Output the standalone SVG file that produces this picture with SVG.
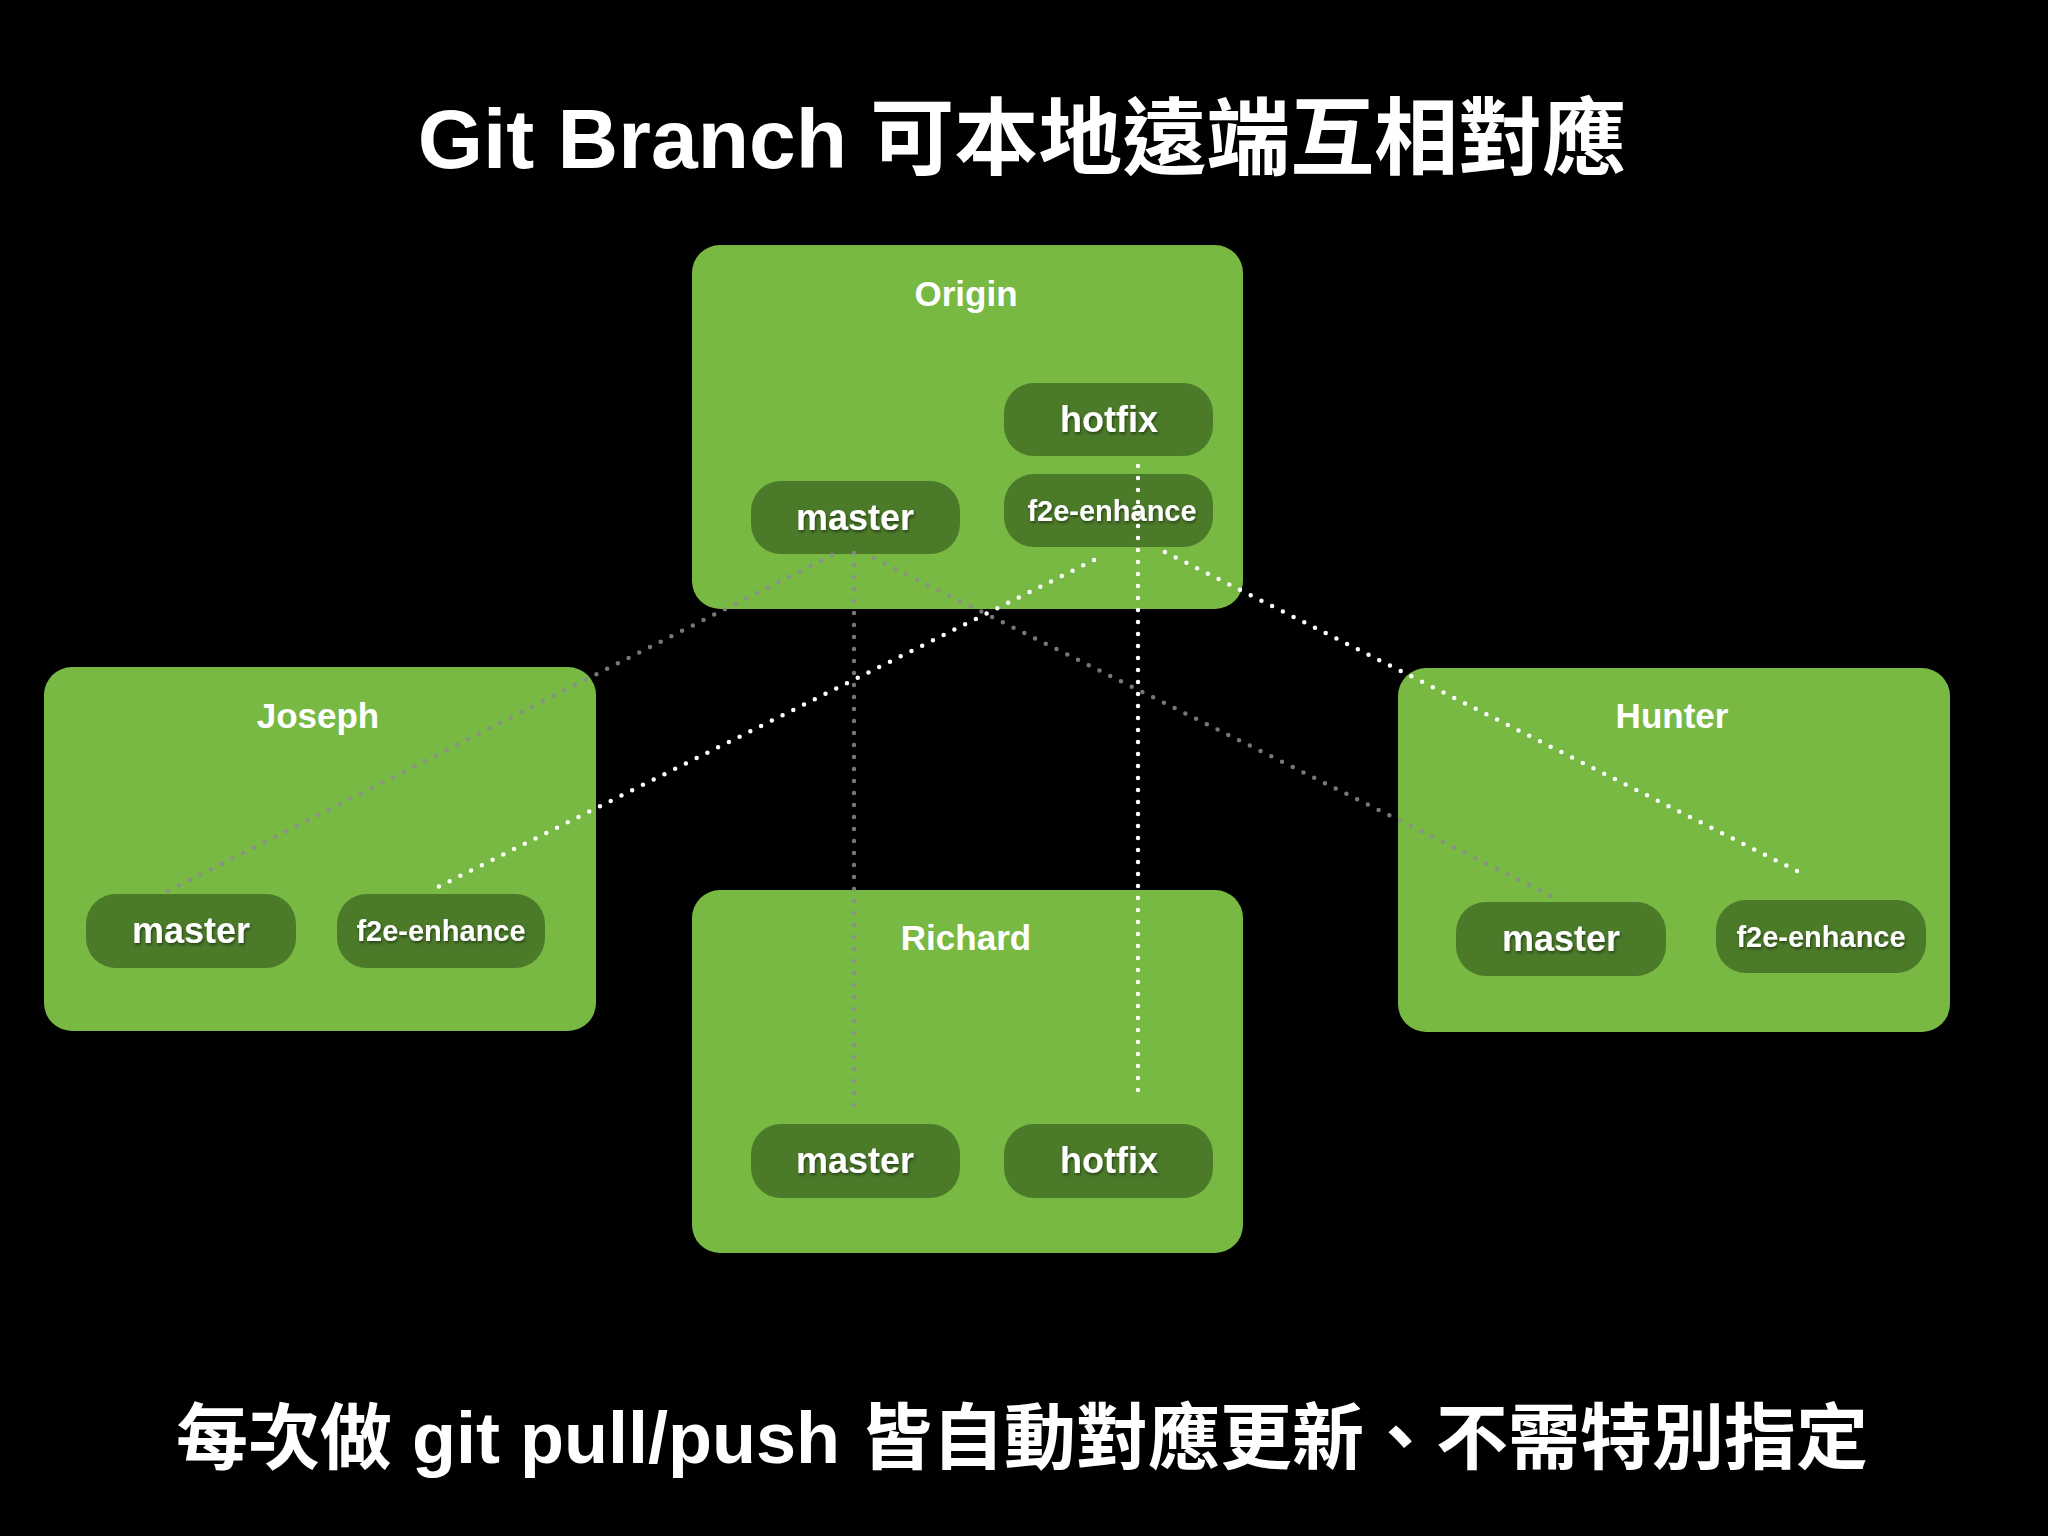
<svg xmlns="http://www.w3.org/2000/svg" width="2048" height="1536" viewBox="0 0 2048 1536">
  <defs>
    <filter id="ts" x="-10%" y="-30%" width="120%" height="160%">
      <feDropShadow dx="1" dy="2" stdDeviation="1.5" flood-color="#000" flood-opacity="0.45"/>
    </filter>
    <style>
      .bg { fill: #000; }
      .box { fill: #78b943; }
      .pill { fill: #4b7a29; }
      .title { font-family: "Liberation Sans", "Noto Sans CJK TC", sans-serif; font-weight: bold; fill: #fff; text-anchor: middle; }
      .name { font-family: "Liberation Sans", Arial, sans-serif; font-weight: bold; font-size: 35px; fill: #fff; text-anchor: middle; }
      .br { font-family: "Liberation Sans", Arial, sans-serif; font-weight: bold; font-size: 36px; fill: #fff; text-anchor: middle; filter: url(#ts); }
      .brs { font-family: "Liberation Sans", Arial, sans-serif; font-weight: bold; font-size: 29px; fill: #fff; text-anchor: middle; filter: url(#ts); }
      .dg { fill: none; stroke: #8c8c8c; stroke-width: 4.5; stroke-linecap: round; stroke-dasharray: 0 12; opacity: 0.85; }
      .dw { fill: none; stroke: #ffffff; stroke-width: 4.5; stroke-linecap: round; stroke-dasharray: 0 12; }
    </style>
  </defs>
  <rect class="bg" x="0" y="0" width="2048" height="1536"/>

  <text class="title" x="1022" y="168" font-size="84">Git Branch 可本地遠端互相對應</text>

  <g id="origin">
    <rect class="box" x="692" y="245" width="551" height="364" rx="28"/>
    <text class="name" x="966" y="306">Origin</text>
    <g id="origin-hotfix">
      <rect class="pill" x="1004" y="383" width="209" height="73" rx="30"/>
      <text class="br" x="1109" y="432">hotfix</text>
    </g>
    <g id="origin-f2e">
      <rect class="pill" x="1004" y="474" width="209" height="73" rx="30"/>
      <text class="brs" x="1112" y="521">f2e-enhance</text>
    </g>
    <g id="origin-master">
      <rect class="pill" x="751" y="481" width="209" height="73" rx="30"/>
      <text class="br" x="855" y="530">master</text>
    </g>
  </g>

  <g id="joseph">
    <rect class="box" x="44" y="667" width="552" height="364" rx="28"/>
    <text class="name" x="318" y="728">Joseph</text>
    <g id="joseph-master">
      <rect class="pill" x="86" y="894" width="210" height="74" rx="30"/>
      <text class="br" x="191" y="943">master</text>
    </g>
    <g id="joseph-f2e">
      <rect class="pill" x="337" y="894" width="208" height="74" rx="30"/>
      <text class="brs" x="441" y="941">f2e-enhance</text>
    </g>
  </g>

  <g id="richard">
    <rect class="box" x="692" y="890" width="551" height="363" rx="28"/>
    <text class="name" x="966" y="950">Richard</text>
    <g id="richard-master">
      <rect class="pill" x="751" y="1124" width="209" height="74" rx="30"/>
      <text class="br" x="855" y="1173">master</text>
    </g>
    <g id="richard-hotfix">
      <rect class="pill" x="1004" y="1124" width="209" height="74" rx="30"/>
      <text class="br" x="1109" y="1173">hotfix</text>
    </g>
  </g>

  <g id="hunter">
    <rect class="box" x="1398" y="668" width="552" height="364" rx="28"/>
    <text class="name" x="1672" y="728">Hunter</text>
    <g id="hunter-master">
      <rect class="pill" x="1456" y="902" width="210" height="74" rx="30"/>
      <text class="br" x="1561" y="951">master</text>
    </g>
    <g id="hunter-f2e">
      <rect class="pill" x="1716" y="900" width="210" height="73" rx="30"/>
      <text class="brs" x="1821" y="947">f2e-enhance</text>
    </g>
  </g>

  <g id="connectors">
    <line class="dg" x1="854" y1="553" x2="854" y2="1117"/>
    <line class="dg" x1="832" y1="555" x2="166" y2="892"/>
    <line class="dg" x1="874" y1="558" x2="1551" y2="896"/>
    <line class="dw" x1="1138" y1="466" x2="1138" y2="1102"/>
    <line class="dw" x1="1094" y1="560" x2="438" y2="887"/>
    <line class="dw" x1="1165" y1="552" x2="1799" y2="872"/>
  </g>

  <text class="title" x="1022" y="1463" font-size="72">每次做 git pull/push 皆自動對應更新、不需特別指定</text>
</svg>
